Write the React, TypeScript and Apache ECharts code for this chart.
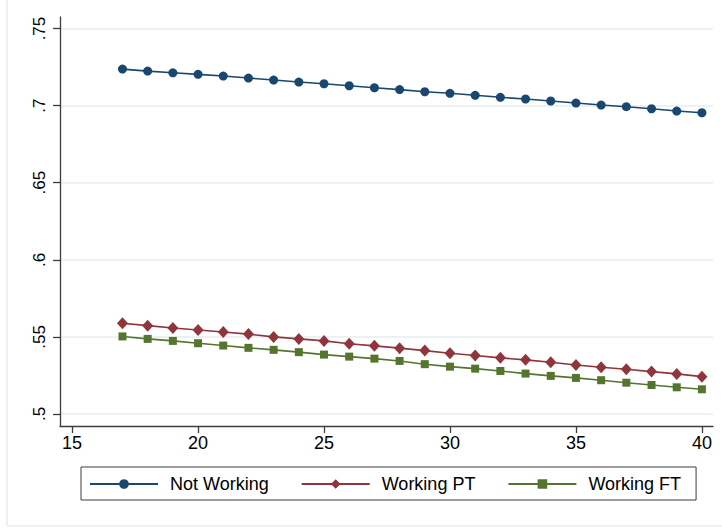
import React, { useEffect, useRef } from "react";
import * as echarts from "echarts";

const ages = [17, 18, 19, 20, 21, 22, 23, 24, 25, 26, 27, 28, 29, 30, 31, 32, 33, 34, 35, 36, 37, 38, 39, 40];
const notWorking = [0.7237, 0.7224, 0.7213, 0.7203, 0.7192, 0.7179, 0.7166, 0.7153, 0.7142, 0.7129, 0.7116, 0.7104, 0.709, 0.708, 0.7067, 0.7054, 0.7043, 0.703, 0.7017, 0.7004, 0.6993, 0.698, 0.6965, 0.6954];
const workingPT = [0.5589, 0.5573, 0.5558, 0.5545, 0.5532, 0.5518, 0.55, 0.5487, 0.5474, 0.5456, 0.5442, 0.5427, 0.5411, 0.5394, 0.5379, 0.5364, 0.5351, 0.5336, 0.5318, 0.5303, 0.529, 0.5275, 0.526, 0.5242];
const workingFT = [0.5503, 0.5487, 0.5474, 0.5459, 0.5444, 0.5429, 0.5416, 0.5401, 0.5385, 0.5372, 0.5359, 0.5344, 0.5323, 0.5307, 0.5294, 0.5279, 0.5262, 0.5247, 0.5234, 0.5219, 0.5203, 0.5188, 0.5173, 0.516];
const xTicks = [15, 20, 25, 30, 35, 40];
const yTicks = [0.5, 0.55, 0.6, 0.65, 0.7, 0.75];

const FONT = "'Liberation Sans', Arial, Helvetica, sans-serif";
const AXIS = "#3c3c3c";

export default function App() {
  const ref = useRef<HTMLDivElement>(null);
  useEffect(() => {
    if (!ref.current) return;
    const chart = echarts.init(ref.current, undefined, { renderer: "svg" });
    const mk = (vals: number[]) => ages.map((a, i) => [a, vals[i]]);
    const fmtY = (v: number) => v.toFixed(2).replace(/^0/, "").replace(/0$/, "");
    chart.setOption({
      animation: false,
      backgroundColor: "#ffffff",
      textStyle: { fontFamily: FONT },
      graphic: [
        {
          type: "rect",
          shape: { x: 7, y: -10, width: 740, height: 536 },
          style: { fill: "none", stroke: "#e6eef0", lineWidth: 1.5 },
          silent: true,
        },
      ],
      grid: { left: 60, right: 9, top: 17, bottom: 103 },
      xAxis: {
        type: "value",
        min: 14.52,
        max: 40.44,
        axisLine: { show: true, lineStyle: { color: AXIS, width: 1.3 } },
        axisTick: { show: true, length: 7, customValues: xTicks, lineStyle: { color: AXIS, width: 1.3 } },
        axisLabel: {
          customValues: xTicks,
          color: "#000",
          fontSize: 18,
          fontFamily: FONT,
          margin: 8,
        },
        splitLine: { show: false },
      },
      yAxis: {
        type: "value",
        min: 0.4922,
        max: 0.7575,
        axisLine: { show: true, onZero: false, lineStyle: { color: AXIS, width: 1.3 } },
        axisTick: { show: true, length: 7, customValues: yTicks, lineStyle: { color: AXIS, width: 1.3 } },
        axisLabel: {
          customValues: yTicks,
          color: "#000",
          fontSize: 17,
          fontFamily: FONT,
          rotate: 90,
          margin: 12,
          formatter: (v: number) => fmtY(v),
        },
        splitLine: { show: true, lineStyle: { color: "#e6eef0", width: 1.5 } },
      },
      legend: {
        left: 81,
        top: 467,
        orient: "horizontal",
        borderColor: "#3c3c3c",
        borderWidth: 1,
        padding: [8, 15, 7, 8],
        itemWidth: 68,
        itemHeight: 12,
        itemGap: 32,
        textStyle: { fontSize: 18, color: "#000", fontFamily: FONT, padding: [0, 0, 0, 7] },
        data: ["Not Working", "Working PT", "Working FT"],
      },
      series: [
        {
          name: "Not Working",
          type: "line",
          data: mk(notWorking),
          symbol: "circle",
          symbolSize: 9,
          lineStyle: { color: "#1a476f", width: 1.6 },
          itemStyle: { color: "#1a476f" },
        },
        {
          name: "Working PT",
          type: "line",
          data: mk(workingPT),
          symbol: "diamond",
          symbolSize: [11, 12],
          lineStyle: { color: "#90353b", width: 1.6 },
          itemStyle: { color: "#90353b" },
        },
        {
          name: "Working FT",
          type: "line",
          data: mk(workingFT),
          symbol: "rect",
          symbolSize: 8,
          lineStyle: { color: "#55752f", width: 1.6 },
          itemStyle: { color: "#55752f" },
        },
      ],
    });
    return () => chart.dispose();
  }, []);
  return (
    <div
      ref={ref}
      style={{ position: "fixed", left: 0, top: 0, width: 722, height: 529 }}
    />
  );
}
